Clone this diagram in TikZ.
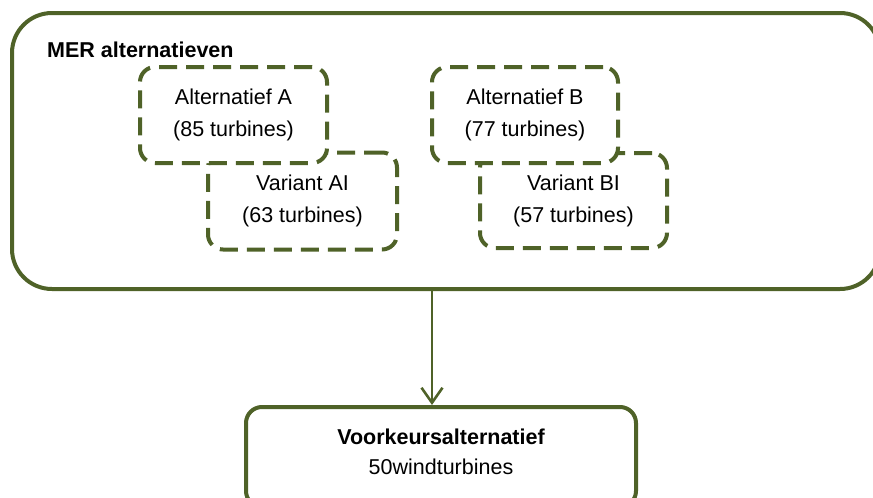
\documentclass[tikz,border=0pt]{standalone}
\usepackage{fontspec}
\setmainfont{Liberation Sans}
\usepackage{tikz}
\usetikzlibrary{positioning,arrows.meta,calc}
\definecolor{olivegr}{RGB}{79,98,40}
\tikzset{
  >={Straight Barb[length=15pt,width=21pt]},
  txt/.style={font=\fontsize{21.5}{32}\selectfont,align=center,inner sep=0pt},
  grplbl/.style={font=\fontsize{21.5}{26}\selectfont\bfseries,inner sep=0pt},
  merbox/.style={draw=olivegr,line width=4pt,rounded corners=40pt},
  altbox/.style={txt,draw=olivegr,fill=white,line width=4pt,rounded corners=15pt,
    dash pattern=on 18pt off 9pt},
  vkabox/.style={draw=olivegr,fill=white,line width=4pt,rounded corners=16pt},
  flow/.style={->,draw=olivegr,line width=2.6pt},
}
\begin{document}
\begin{tikzpicture}[x=1pt,y=-1pt]
  \path[use as bounding box,clip] (0,0) rectangle (873,498);
  % main group
  \node[merbox,minimum width=868pt,minimum height=276pt] (mer) at (446,151) {};
  \node[grplbl,anchor=west] (merlbl) at (47,50) {MER alternatieven};
  % variants first, alternatives on top
  \node[altbox,minimum width=189pt,minimum height=97pt] (varA) at (302.5,201)
    {Variant AI\\(63 turbines)};
  \node[altbox,minimum width=187pt,minimum height=95pt] (varB) at (573.5,200.5)
    {Variant BI\\(57 turbines)};
  \node[altbox,minimum width=187pt,minimum height=96pt] (altA) at (233.5,115)
    {Alternatief A\\(85 turbines)};
  \node[altbox,minimum width=186pt,minimum height=96pt] (altB) at (525,115)
    {Alternatief B\\(77 turbines)};
  % preferred alternative
  \node[vkabox,minimum width=390pt,minimum height=100pt] (vka) at (441,457) {};
  \node[txt,font=\fontsize{21.5}{26}\selectfont\bfseries] (vkatitle) at (441,437)
    {Voorkeursalternatief};
  \node[txt] (vkatext) at (441,467) {50windturbines};
  \draw[flow] ([xshift=-9pt]vka.north |- mer.south) -- ([xshift=-9pt]vka.north);
\end{tikzpicture}
\end{document}
